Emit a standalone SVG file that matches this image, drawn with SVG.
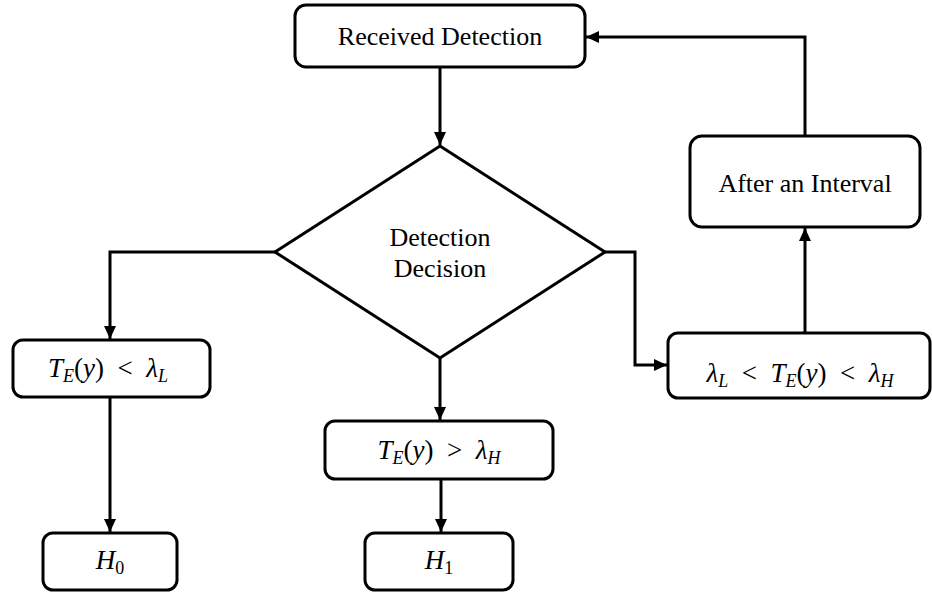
<svg xmlns="http://www.w3.org/2000/svg" width="932" height="592" viewBox="0 0 932 592">
<style>
.box{fill:#fff;stroke:#000;stroke-width:3}
text{font-family:"Liberation Serif","DejaVu Serif","Times New Roman",serif;fill:#000;text-anchor:middle}
.lbl{font-size:26px}
.m{font-size:27px}
.i{font-style:italic}
.s{font-style:italic;font-size:18px}
.con{fill:none;stroke:#000;stroke-width:3}
</style>
<defs>
<marker id="ah" markerUnits="userSpaceOnUse" markerWidth="14" markerHeight="12" refX="13" refY="6" orient="auto">
<path d="M0,0 L13,6 L0,12 Z" fill="#000"/>
</marker>
</defs>
<rect width="932" height="592" fill="#fff"/>
<g id="connectors">
<path class="con" d="M440,67 V145" marker-end="url(#ah)"/>
<path class="con" d="M275,252 H110 V339" marker-end="url(#ah)"/>
<path class="con" d="M440,358 V420" marker-end="url(#ah)"/>
<path class="con" d="M605,252 H635 V365 H667" marker-end="url(#ah)"/>
<path class="con" d="M110,397 V532" marker-end="url(#ah)"/>
<path class="con" d="M441,479 V532" marker-end="url(#ah)"/>
<path class="con" d="M805,333 V228" marker-end="url(#ah)"/>
<path class="con" d="M805,136 V37 H586" marker-end="url(#ah)"/>
</g>
<g id="received">
<rect class="box" x="295" y="5" width="290" height="62" rx="11"/>
<text class="lbl" x="440" y="45">Received Detection</text>
</g>
<g id="decision">
<polygon class="box" points="440,146 605,252 440,358 275,252"/>
<text class="lbl" x="440" y="246">Detection</text>
<text class="lbl" x="440" y="277">Decision</text>
</g>
<g id="low">
<rect class="box" x="13" y="340" width="197" height="57" rx="10"/>
<text class="m" x="108" y="377" xml:space="preserve"><tspan class="i">T</tspan><tspan class="s" dy="5">E</tspan><tspan dy="-5">(</tspan><tspan class="i">y</tspan><tspan>)  &lt;  </tspan><tspan class="i">λ</tspan><tspan class="s" dy="5">L</tspan></text>
</g>
<g id="high">
<rect class="box" x="325" y="421" width="228" height="58" rx="10"/>
<text class="m" x="439" y="459" xml:space="preserve"><tspan class="i">T</tspan><tspan class="s" dy="5">E</tspan><tspan dy="-5">(</tspan><tspan class="i">y</tspan><tspan>)  &gt;  </tspan><tspan class="i">λ</tspan><tspan class="s" dy="5">H</tspan></text>
</g>
<g id="between">
<rect class="box" x="668" y="333" width="262" height="65" rx="10"/>
<text class="m" x="800" y="382" xml:space="preserve"><tspan class="i">λ</tspan><tspan class="s" dy="5">L</tspan><tspan dy="-5">  &lt;  </tspan><tspan class="i">T</tspan><tspan class="s" dy="5">E</tspan><tspan dy="-5">(</tspan><tspan class="i">y</tspan><tspan>)  &lt;  </tspan><tspan class="i">λ</tspan><tspan class="s" dy="5">H</tspan></text>
</g>
<g id="interval">
<rect class="box" x="690" y="136" width="230" height="91" rx="12"/>
<text class="lbl" x="805" y="192">After an Interval</text>
</g>
<g id="h0">
<rect class="box" x="43" y="533" width="134" height="57" rx="10"/>
<text class="m" x="110" y="569"><tspan class="i">H</tspan><tspan font-size="18" dy="5">0</tspan></text>
</g>
<g id="h1">
<rect class="box" x="365" y="533" width="148" height="57" rx="10"/>
<text class="m" x="439" y="569"><tspan class="i">H</tspan><tspan font-size="18" dy="5">1</tspan></text>
</g>
</svg>
